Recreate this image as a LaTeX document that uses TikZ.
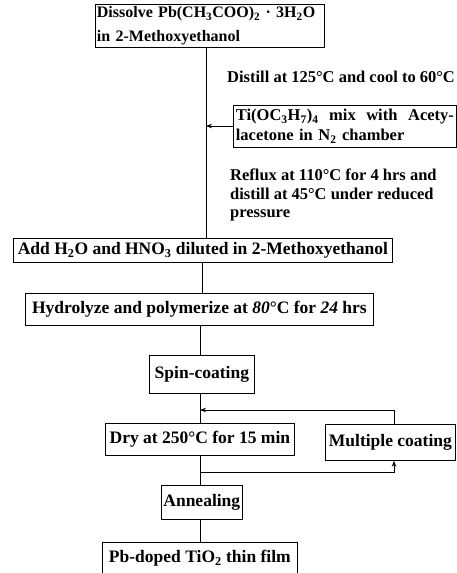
\documentclass[tikz,border=0pt]{standalone}
\usepackage{fontspec}
\setmainfont{Liberation Serif}
\usetikzlibrary{arrows.meta}
\newcommand{\sbs}[1]{\textsubscript{#1}}
\tikzset{
  box/.style={draw, line width=0.8pt, anchor=north west, inner sep=2pt, font=\fontsize{17.5}{20}\selectfont\bfseries},
  lbl/.style={anchor=north west, align=left, inner sep=0pt, font=\fontsize{16.5}{18.5}\selectfont\bfseries},
  ln/.style={line width=0.8pt},
  arr/.style={line width=0.8pt, -{Stealth[length=6pt,width=4.5pt]}}
}
\begin{document}
\begin{tikzpicture}[x=1pt, y=-1pt]
\useasboundingbox (0,0) rectangle (457,573);
% boxes
\node[box, minimum width=229pt, minimum height=43pt, text width=226pt, align=left, inner xsep=1.5pt, inner ysep=0pt, font=\fontsize{16}{24}\selectfont\bfseries] (b1) at (95,4)
  {\mbox{Dissolve Pb(CH\sbs{3}COO)\sbs{2} · 3H\sbs{2}O}\\in 2-Methoxyethanol};
\node[box, minimum width=223pt, minimum height=42pt, text width=218pt, align=left, font=\fontsize{16.5}{20}\selectfont\bfseries] (b2) at (233,105)
  {Ti(OC\sbs{3}H\sbs{7})\sbs{4}\hfill mix\hfill with\hfill Acety-\\lacetone in N\sbs{2} chamber};
\node[box, minimum width=379pt, minimum height=24pt] (b3) at (13,238)
  {Add H\sbs{2}O and HNO\sbs{3} diluted in 2-Methoxyethanol};
\node[box, minimum width=348pt, minimum height=32pt] (b4) at (25,293)
  {Hydrolyze and polymerize at \textit{80}°C for \textit{24} hrs};
\node[box, minimum width=105pt, minimum height=38pt] (b5) at (149,355)
  {Spin-coating};
\node[box, minimum width=189pt, minimum height=32pt] (b6) at (105,423)
  {Dry at 250°C for 15 min};
\node[box, minimum width=130pt, minimum height=36pt] (b7) at (325,424)
  {Multiple coating};
\node[box, minimum width=79pt, minimum height=34pt] (b8) at (161,485)
  {Annealing};
\node[box, minimum width=195pt, minimum height=32pt] (b9) at (102,542)
  {Pb-doped TiO\sbs{2} thin film};
% labels
\node[lbl, anchor=west] (l1) at (227,77) {Distill at 125°C and cool to 60°C};
\node[lbl] (l2) at (230,169) {Reflux at 110°C for 4 hrs and\\distill at 45°C under reduced\\pressure};
% coordinates
\coordinate (t1) at (206,0);
\coordinate (fb) at (200,410);
\coordinate (jn) at (200,472);
% connectors
\draw[ln] (b1.south -| t1) -- (b3.north -| t1);
\draw[arr] (b2.west |- 0,126) -- (t1 |- 0,126);
\draw[ln] (b3.south -| 202,0) -- (b4.north -| 202,0);
\draw[ln] (b4.south -| 200,0) -- (b5.north -| 200,0);
\draw[ln] (b5.south -| 200,0) -- (b6.north -| 200,0);
\draw[arr] (b7.north -| 394,0) |- (fb);
\draw[ln] (b6.south -| 200,0) -- (b8.north -| 200,0);
\draw[arr] (jn) -| (b7.south -| 394,0);
\draw[ln] (b8.south -| 200,0) -- (b9.north -| 200,0);
\end{tikzpicture}
\end{document}
